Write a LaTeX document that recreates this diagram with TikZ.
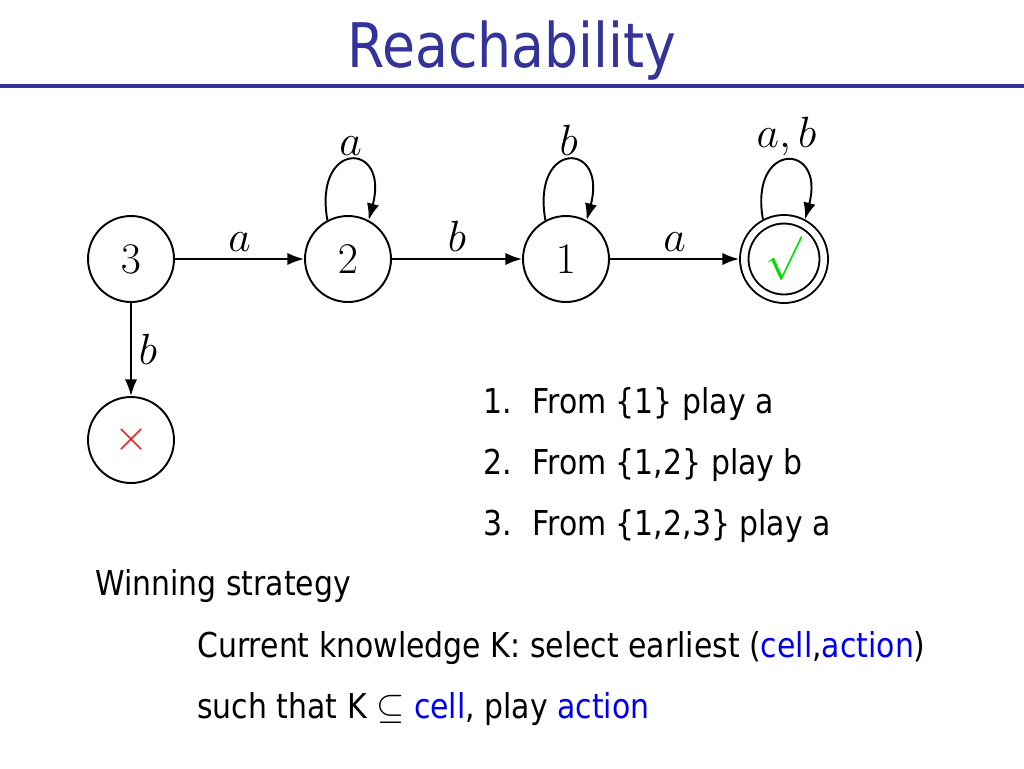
\documentclass[tikz,border=0pt]{standalone}
\usepackage{fontspec}
\newfontfamily\slidefont[FakeStretch=0.873]{DejaVu Sans}
\usetikzlibrary{arrows.meta}
\definecolor{titleblue}{RGB}{51,51,153}
\definecolor{keyblue}{RGB}{0,0,240}
\definecolor{okgreen}{RGB}{0,220,0}
\definecolor{badred}{RGB}{240,30,30}
\tikzset{
  state/.style={circle, draw, line width=1.1pt, minimum size=1.72cm, inner sep=0pt, font=\Huge},
  accept/.style={state, minimum size=1.59cm, double, double distance=3.7pt, outer sep=2.95pt},
  edge/.style={line width=1.1pt, -{Latex[length=9.5pt,width=7pt]}},
  lbl/.style={inner sep=4pt, font=\Huge},
  slide/.style={inner sep=0pt, anchor=base west, font=\slidefont\fontsize{19.5}{24}\selectfont},
}
\begin{document}
\begin{tikzpicture}[x=0.02cm, y=0.02cm]
\useasboundingbox (0,0) rectangle (1024,-768);
% title
\node[inner sep=0pt, anchor=base, text=titleblue, font=\slidefont\fontsize{35}{40}\selectfont] (title) at (512,-67) {Reachability};
\fill[titleblue] (0,-84) rectangle (1024,-88);
% states
\node[state] (s3) at (131,-259) {$3$};
\node[state] (s2) at (348,-259) {$2$};
\node[state] (s1) at (566,-259) {$1$};
\node[accept] (win) at (784,-259) {$\color{okgreen}\surd$};
\node[state] (lose) at (131,-440) {$\color{badred}\times$};
% transitions
\draw[edge] (s3) -- node[lbl, above] {$a$} (s2);
\draw[edge] (s2) -- node[lbl, above] {$b$} (s1);
\draw[edge] (s1) -- node[lbl, above] {$a$} (win);
\draw[edge] (s3) -- node[lbl, right] {$b$} (lose);
\draw[edge] (s2.118) .. controls +(100:82) and +(75:82) .. node[lbl, above, inner sep=2pt] {$a$} (s2.62);
\draw[edge] (s1.118) .. controls +(100:82) and +(75:82) .. node[lbl, above, inner sep=2pt] {$b$} (s1.62);
\draw[edge] (win.118) .. controls +(100:80) and +(75:80) .. node[lbl, above, inner sep=2pt] {$a,b$} (win.62);
% strategy
\node[slide] (step1) at (483,-413) {\makebox[0.98cm][l]{1.}From \{1\} play a};
\node[slide] (step2) at (483,-474) {\makebox[0.98cm][l]{2.}From \{1,2\} play b};
\node[slide] (step3) at (483,-535) {\makebox[0.98cm][l]{3.}From \{1,2,3\} play a};
\node[slide] (win-head) at (95,-595) {Winning strategy};
\node[slide] (rule1) at (197,-657) {Current knowledge K: select earliest (\textcolor{keyblue}{cell},\textcolor{keyblue}{action})};
\node[slide] (rule2) at (197,-718) {such that K $\subseteq$ \textcolor{keyblue}{cell}, play \textcolor{keyblue}{action}};
\end{tikzpicture}
\end{document}
